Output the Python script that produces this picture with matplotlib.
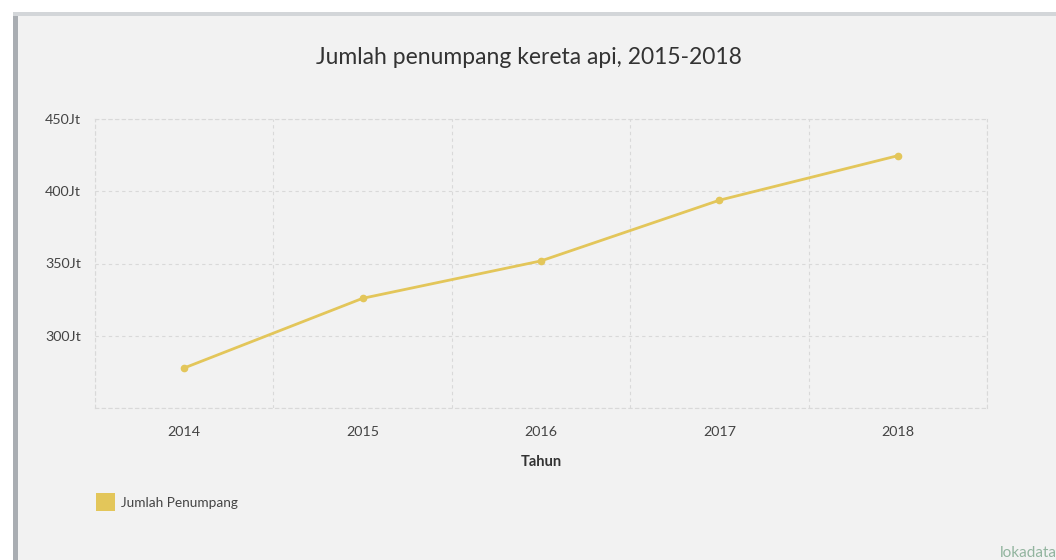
import matplotlib
matplotlib.use("Agg")
import matplotlib.pyplot as plt
from matplotlib.patches import Rectangle
from matplotlib.ticker import FuncFormatter, MultipleLocator

years = ["2014", "2015", "2016", "2017", "2018"]
passengers = [277.7, 325.9, 351.8, 393.8, 424.6]  # juta
series_name = "Jumlah Penumpang"
title = "Jumlah penumpang kereta api, 2015-2018"

plt.rcParams['font.family'] = ['Lato', 'DejaVu Sans']
bg = "#f2f2f2"
line_color = "#e3c65a"

fig = plt.figure(figsize=(10.56, 5.6), dpi=100)
fig.patch.set_facecolor("#ffffff")
# card background
fig.patches.append(Rectangle((18/1056, 0), 1 - 18/1056, 1 - 14/560, transform=fig.transFigure,
                             facecolor=bg, edgecolor="none", zorder=-2))
# left dark strip and top border
fig.patches.append(Rectangle((13/1056, 0), 5/1056, 1 - 12/560, transform=fig.transFigure,
                             facecolor="#a9adb2", edgecolor="none", zorder=-1))
fig.patches.append(Rectangle((13/1056, 1 - 16/560), 1, 4/560, transform=fig.transFigure,
                             facecolor="#d3d6d9", edgecolor="none", zorder=-1))

ax = fig.add_axes([95/1056, 1 - 408/560, (987 - 95)/1056, (408 - 119)/560])
ax.set_facecolor(bg)
x = list(range(len(years)))
ax.plot(x, passengers, color=line_color, lw=2.0, marker="o", ms=4.5, zorder=3)
ax.set_xlim(-0.5, len(years) - 0.5)
ax.set_ylim(250, 450)
ax.set_xticks(x)
ax.set_xticklabels(years)
ax.yaxis.set_major_locator(MultipleLocator(50))
ax.yaxis.set_major_formatter(FuncFormatter(lambda v, p: "" if v <= 250 else f"{int(v)}Jt"))
ax.set_xticks([i - 0.5 for i in range(len(years) + 1)], minor=True)
ax.grid(False)
ax.grid(True, which="major", axis="y", color="#d9d9d9", ls=(0, (3, 3)), lw=0.8)
ax.grid(True, which="minor", axis="x", color="#d9d9d9", ls=(0, (3, 3)), lw=0.8)
for s in ax.spines.values():
    s.set_visible(True)
    s.set_color("#d9d9d9")
    s.set_linestyle((0, (3, 3)))
    s.set_linewidth(0.8)
ax.tick_params(axis="both", which="both", length=0, labelsize=10.3, colors="#444444")
ax.tick_params(axis="x", pad=13)
for lab in ax.get_yticklabels():
    lab.set_horizontalalignment("left")
ax.yaxis.set_tick_params(pad=36)

ax.set_xlabel("Tahun", fontsize=10.5, fontweight="bold", color="#333333", labelpad=12)
fig.text(529/1056, 1 - 58/560, title, ha="center", va="center", fontsize=16.5, color="#333333")

# legend
fig.patches.append(Rectangle((96/1056, 1 - 511/560), 19/1056, 18/560, transform=fig.transFigure,
                             facecolor=line_color, edgecolor="none"))
fig.text(121/1056, 1 - 503/560, series_name, ha="left", va="center", fontsize=9.8, color="#444444")

# watermark
fig.text(1000/1056, 1 - 553/560, "lokadata", ha="left", va="center", fontsize=11,
         color="#7aa58a", alpha=0.8)

fig.savefig("out.png", dpi=100, facecolor=fig.get_facecolor())
